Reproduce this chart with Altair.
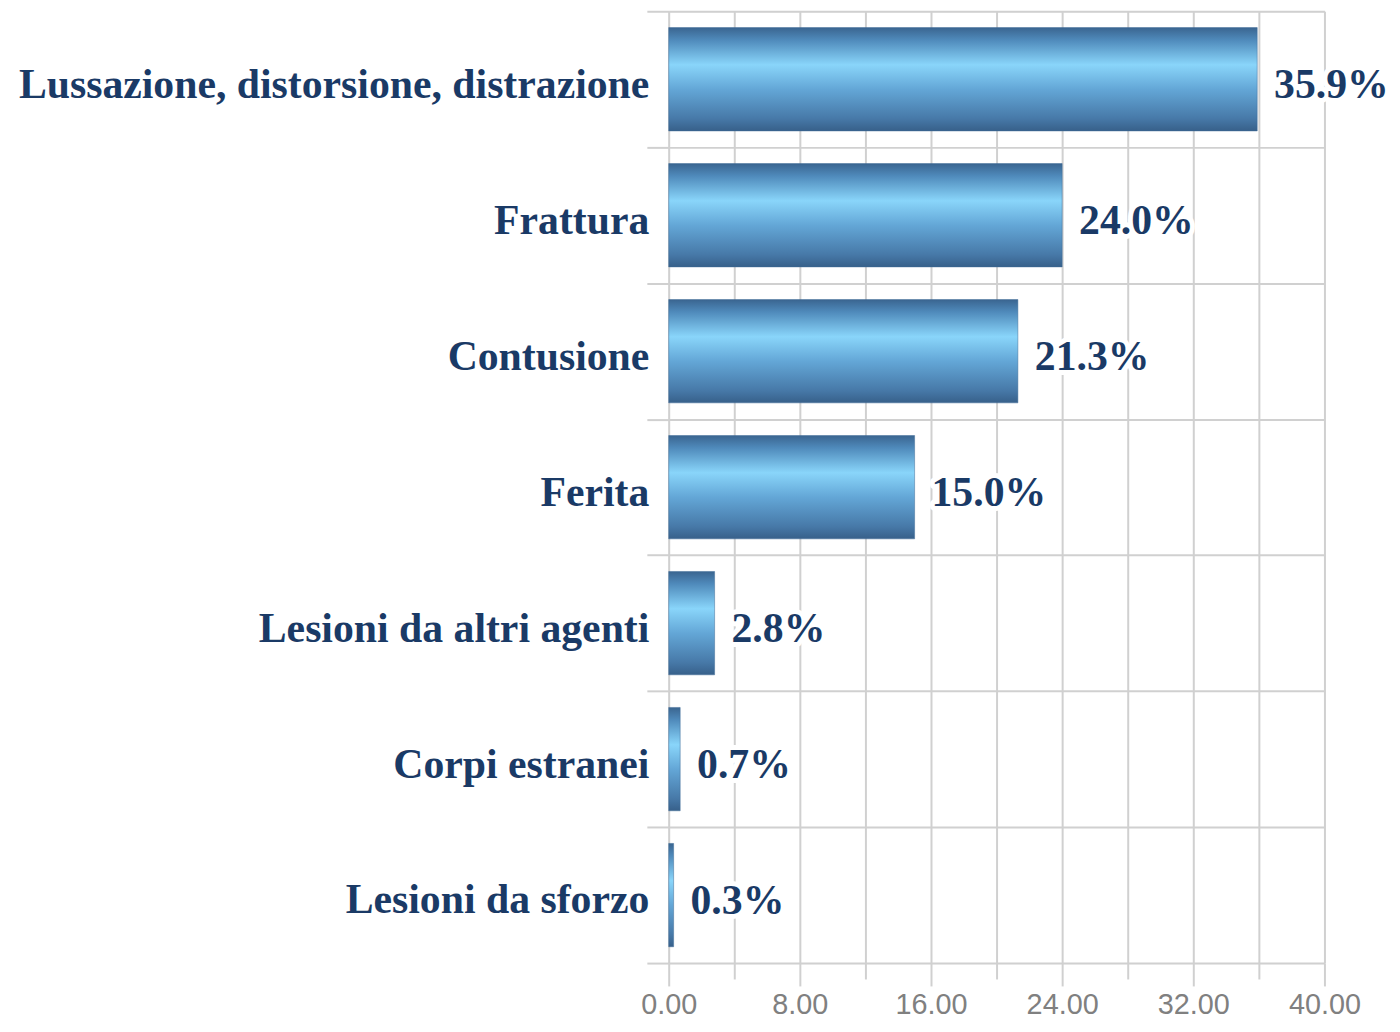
import altair as alt
import pandas as pd

categories = [
    "Lussazione, distorsione, distrazione",
    "Frattura",
    "Contusione",
    "Ferita",
    "Lesioni da altri agenti",
    "Corpi estranei",
    "Lesioni da sforzo",
]
values = [35.9, 24.0, 21.3, 15.0, 2.8, 0.7, 0.3]
x_ticks = [0, 4, 8, 12, 16, 20, 24, 28, 32, 36, 40]

df = pd.DataFrame({"cat": categories, "val": values})
df["lbl"] = [f"{v:.1f}%" for v in values]

navy = "#1a3a66"
grid = "#d0d0d0"

gradient = alt.Gradient(
    gradient="linear",
    x1=0, y1=0, x2=0, y2=1,
    stops=[
        alt.GradientStop(color="#3a6590", offset=0.0),
        alt.GradientStop(color="#4f8abb", offset=0.12),
        alt.GradientStop(color="#89d5fa", offset=0.36),
        alt.GradientStop(color="#63a6d6", offset=0.6),
        alt.GradientStop(color="#4779a8", offset=0.88),
        alt.GradientStop(color="#37608a", offset=1.0),
    ],
)

y_enc = alt.Y(
    "cat:N",
    sort=categories,
    scale=alt.Scale(paddingInner=0, paddingOuter=0),
    axis=alt.Axis(
        title=None,
        domain=False,
        tickBand="extent",
        grid=True,
        gridColor=grid,
        gridWidth=2,
        tickColor=grid,
        tickWidth=2,
        tickSize=22,
        labelPadding=-2,
        labelOffset=5,
        labelFont="Liberation Serif",
        labelFontWeight="bold",
        labelFontSize=42,
        labelColor=navy,
        labelLimit=700,
    ),
)

x_enc = alt.X(
    "val:Q",
    scale=alt.Scale(domain=[0, 40], nice=False),
    axis=alt.Axis(
        title=None,
        values=x_ticks,
        labelExpr="datum.value % 8 === 0 ? format(datum.value, '.2f') : ''",
        labelAlign="center",
        labelFlush=False,
        labelOverlap=False,
        domain=False,
        grid=True,
        gridColor=grid,
        gridWidth=2,
        tickColor=grid,
        tickWidth=2,
        tickSize={"condition": {"test": "datum.value % 8 === 0", "value": 23}, "value": 16},
        labelPadding=5,
        labelFont="Liberation Sans",
        labelFontSize=29,
        labelColor="#808080",
    ),
)

bars = alt.Chart(df).mark_bar(
    color=gradient, stroke="#3f6c97", strokeWidth=0.5, height={"band": 0.76}
).encode(y=y_enc, x=x_enc)

text_style = dict(
    align="left", baseline="middle", dx=17, dy=6,
    font="Liberation Serif", fontWeight="bold", fontSize=42,
)

halo = alt.Chart(df).mark_text(
    color="white", stroke="white", strokeWidth=10, strokeJoin="round", **text_style
).encode(y=alt.Y("cat:N", sort=categories), x="val:Q", text="lbl:N")

labels = alt.Chart(df).mark_text(color=navy, **text_style).encode(
    y=alt.Y("cat:N", sort=categories), x="val:Q", text="lbl:N"
)

chart = (
    alt.layer(bars, halo, labels)
    .properties(
        width=660,
        height=958,
        autosize=alt.AutoSizeParams(type="none"),
        padding={"left": 665, "top": 0, "right": 68, "bottom": 54},
    )
    .configure_view(stroke=None)
    .configure(background="white")
)

chart.save("out.html", embed_options={"renderer": "svg", "actions": False})
